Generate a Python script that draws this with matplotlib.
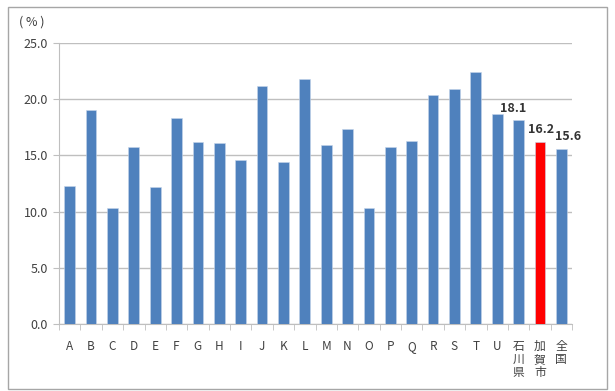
import matplotlib
matplotlib.use("Agg")
import matplotlib.pyplot as plt
from matplotlib.patches import Rectangle

plt.rcParams['font.family'] = ['Noto Sans CJK JP', 'DejaVu Sans']

categories = ["A", "B", "C", "D", "E", "F", "G", "H", "I", "J", "K", "L",
              "M", "N", "O", "P", "Q", "R", "S", "T", "U",
              "石\n川\n県", "加\n賀\n市", "全\n国"]
values = [12.3, 19.0, 10.3, 15.7, 12.2, 18.3, 16.2, 16.1, 14.6, 21.2, 14.4, 21.8,
          15.9, 17.3, 10.3, 15.7, 16.3, 20.4, 20.9, 22.4, 18.7,
          18.1, 16.2, 15.6]
labelled = {21: (-4, 4), 22: (1, 4), 23: (5, 4)}
highlight = 22

blue = "#4F81BD"
red = "#FF0000"
grid_c = "#BFBFBF"
text_c = "#404040"

fig = plt.figure(figsize=(6.15, 3.91), dpi=100)
fig.patches.append(Rectangle((8 / 615, 2 / 391), 599 / 615, 382 / 391,
                             transform=fig.transFigure, fill=False,
                             edgecolor="#A6A6A6", linewidth=1.0))

ax = fig.add_axes([59 / 615, (391 - 324.3) / 391, (572 - 59) / 615, (324.3 - 42.7) / 391])

x = list(range(len(categories)))
colors = [red if i == highlight else blue for i in x]
ax.bar(x, values, width=0.5, color=colors, edgecolor="#C5D5EA", linewidth=0.4, zorder=3)

for i, (dx, dy) in labelled.items():
    ax.annotate(f"{values[i]:.1f}", (i, values[i]), xytext=(dx, dy),
                textcoords="offset points", ha="center", va="bottom",
                fontsize=9, fontweight="semibold", color="#333333")

ax.set_xlim(-0.5, len(categories) - 0.5)
ax.set_ylim(0, 25)
ax.set_yticks([0, 5, 10, 15, 20, 25])
ax.set_yticklabels([f"{v:.1f}" for v in [0, 5, 10, 15, 20, 25]])
ax.yaxis.grid(True, color=grid_c, linewidth=1.0, zorder=0)
ax.set_axisbelow(True)

ax.set_xticks(x)
ax.set_xticklabels(categories, linespacing=1.0, va="top")
ax.set_xticks([i - 0.5 for i in range(len(categories) + 1)], minor=True)
ax.tick_params(axis="x", which="major", length=0, pad=11, labelsize=8.5, labelcolor=text_c)
ax.tick_params(axis="x", which="minor", length=4, color=grid_c, direction="out")
ax.tick_params(axis="y", length=4, color=grid_c, pad=4, labelsize=9, labelcolor=text_c)

for s in ["top", "right"]:
    ax.spines[s].set_visible(False)
ax.spines["left"].set_color(grid_c)
ax.spines["bottom"].set_color(grid_c)

fig.text(32 / 615, 1 - 22 / 391, "( % )", fontsize=9, color=text_c, ha="center", va="center")

fig.savefig("out.png", dpi=100)
